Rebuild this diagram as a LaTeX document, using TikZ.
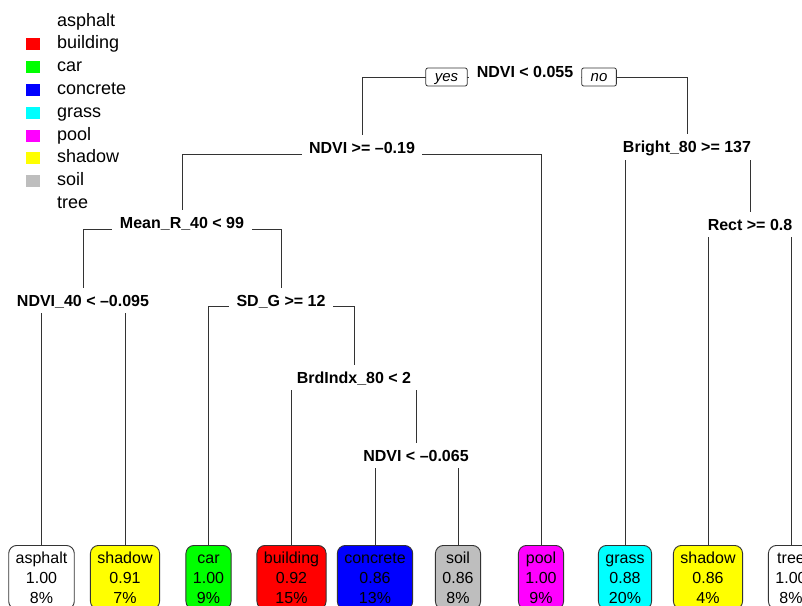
\documentclass[tikz,border=0pt]{standalone}
\usepackage{fontspec}
\setmainfont{Liberation Sans}
\usetikzlibrary{backgrounds}
\definecolor{soilgray}{HTML}{BEBEBE}
\definecolor{linegray}{HTML}{333333}
\definecolor{cred}{HTML}{FF0000}
\definecolor{cgreen}{HTML}{00FF00}
\definecolor{cblue}{HTML}{0000FF}
\definecolor{ccyan}{HTML}{00FFFF}
\definecolor{cmagenta}{HTML}{FF00FF}
\definecolor{cyellow}{HTML}{FFFF00}
\newcommand{\leaftext}[3]{\rule{0pt}{11.7pt}#1\\#2\\#3}
\begin{document}
\begin{tikzpicture}[x=1pt,y=-1pt,
  splitbox/.style={font=\bfseries\fontsize{16}{18}\selectfont, fill=white, inner xsep=7.5pt, inner ysep=0pt, text height=11.5pt, text depth=0pt, minimum height=25.5pt},
  leafbox/.style={draw=linegray, line width=0.9pt, rounded corners=8pt, align=center, anchor=north, font=\fontsize{16}{20}\selectfont, inner xsep=7pt, inner ysep=6pt},
  ynbox/.style={draw=linegray, line width=0.8pt, rounded corners=2pt, fill=white, font=\itshape\fontsize{15}{17}\selectfont, inner xsep=9pt, inner ysep=0pt, text height=8pt, text depth=0pt, minimum height=18pt},
  branch/.style={draw=linegray, line width=0.9pt},
  legtext/.style={anchor=west, inner sep=0pt, font=\fontsize{18}{20}\selectfont, text height=13.1pt, text depth=3.8pt},
  legsq/.style={minimum width=14pt, minimum height=12pt, inner sep=0pt, draw=none},
]
\useasboundingbox (0,0) rectangle (802,605);

% legend
\foreach \nm/\col [count=\i from 0] in {asphalt/white,building/cred,car/cgreen,concrete/cblue,grass/ccyan,pool/cmagenta,shadow/cyellow,soil/soilgray,tree/white}{
  \node[legsq, fill=\col] (sq\i) at (33,21.5+22.8*\i) {};
  \node[legtext] (lt\i) at (57,21.5+22.8*\i) {\nm};
}

% split nodes
\node[splitbox] (r) at (525,71.5) {NDVI < 0.055};
\node[splitbox] (a) at (362,148) {NDVI >= –0.19};
\node[splitbox] (b) at (687,147) {Bright\_80 >= 137};
\node[splitbox] (c) at (182,223) {Mean\_R\_40 < 99};
\node[splitbox] (d) at (750,224.7) {Rect >= 0.8};
\node[splitbox] (e) at (83,300.5) {NDVI\_40 < –0.095};
\node[splitbox] (f) at (281,300.5) {SD\_G >= 12};
\node[splitbox] (g) at (354,377.5) {BrdIndx\_80 < 2};
\node[splitbox] (h) at (416,455.5) {NDVI < –0.065};

% yes / no
\node[ynbox] (yes) at (446.5,77) {yes};
\node[ynbox] (no) at (599,77) {no};

% leaves
\node[leafbox, fill=white] (l1) at (41.5,545) {\leaftext{asphalt}{1.00}{8\%}};
\node[leafbox, fill=cyellow] (l2) at (125,545) {\leaftext{shadow}{0.91}{7\%}};
\node[leafbox, fill=cgreen] (l3) at (208.5,545) {\leaftext{car}{1.00}{9\%}};
\node[leafbox, fill=cred] (l4) at (291.5,545) {\leaftext{building}{0.92}{15\%}};
\node[leafbox, fill=cblue] (l5) at (375,545) {\leaftext{concrete}{0.86}{13\%}};
\node[leafbox, fill=soilgray] (l6) at (458,545) {\leaftext{soil}{0.86}{8\%}};
\node[leafbox, fill=cmagenta] (l7) at (541,545) {\leaftext{pool}{1.00}{9\%}};
\node[leafbox, fill=ccyan] (l8) at (625,545) {\leaftext{grass}{0.88}{20\%}};
\node[leafbox, fill=cyellow] (l9) at (708,545) {\leaftext{shadow}{0.86}{4\%}};
\node[leafbox, fill=white] (l10) at (791,545) {\leaftext{tree}{1.00}{8\%}};

% branches
\begin{scope}[on background layer]
\foreach \p/\c in {r/a,r/b,a/c,a/l7,b/l8,b/d,c/e,c/f,d/l9,d/l10,e/l1,e/l2,f/l3,f/g,g/l4,g/h,h/l5,h/l6}{
  \path[branch] ([yshift=-6pt]\p.center) -| (\c.north);
}
\end{scope}
\end{tikzpicture}
\end{document}
